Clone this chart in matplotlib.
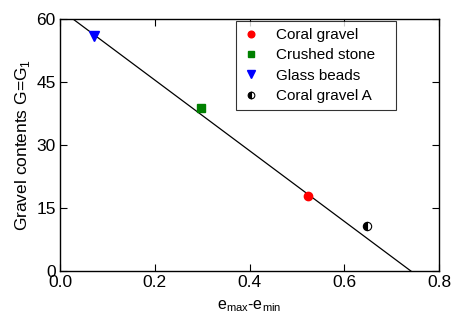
import numpy as np
import matplotlib.pyplot as plt

plt.rcParams['font.family'] = ['Liberation Sans', 'DejaVu Sans']

# data
coral_x = [0.524]
coral_y = [17.9]
crushed_x = [0.297]
crushed_y = [38.8]
glass_x = [0.072]
glass_y = [56.0]
coralA_x = [0.648]
coralA_y = [10.8]

# fitted line end points
fit_x = [0.0, 0.80]
fit_y = [62.3, -5.0]

fig = plt.figure(figsize=(4.52, 3.15), dpi=100)
ax = fig.add_axes([60 / 452, 1 - 271 / 315, 379 / 452, 252 / 315])

ax.plot(fit_x, fit_y, color='black', lw=0.9, zorder=1)
ax.plot(coral_x, coral_y, 'o', color='red', ms=6, ls='none', label='Coral gravel', zorder=3)
ax.plot(crushed_x, crushed_y, 's', color='green', ms=6, ls='none', label='Crushed stone', zorder=3)
ax.plot(glass_x, glass_y, 'v', color='blue', ms=7, ls='none', label='Glass beads', zorder=3)
ax.plot(coralA_x, coralA_y, 'o', ms=6, ls='none', fillstyle='left',
        markerfacecolor='black', markerfacecoloralt='white',
        markeredgecolor='black', markeredgewidth=0.8, label='Coral gravel A', zorder=3)

ax.set_xlim(0, 0.8)
ax.set_ylim(0, 60)
ax.set_xticks([0.0, 0.2, 0.4, 0.6, 0.8])
ax.set_xticklabels(['0.0', '0.2', '0.4', '0.6', '0.8'])
ax.set_yticks([0, 15, 30, 45, 60])
ax.tick_params(direction='in', top=True, right=True, length=5, width=0.8, labelsize=12.5, pad=3)
for s in ax.spines.values():
    s.set_linewidth(1.0)

ax.set_xlabel(r'e$_{\mathregular{max}}$-e$_{\mathregular{min}}$', fontsize=11.5, labelpad=6)
ax.set_ylabel(r'Gravel contents G=G$_{\mathregular{1}}$', fontsize=12.5, labelpad=3)

leg_h = 89 / 252
leg = ax.legend(loc='upper left',
                bbox_to_anchor=((236 - 60) / 379, (271 - 21) / 252 - leg_h, 160 / 379, leg_h),
                mode='expand', borderaxespad=0, fontsize=11,
                frameon=True, fancybox=False, edgecolor='black', borderpad=0.45,
                labelspacing=0.42, handletextpad=1.2, handlelength=1.0, markerscale=0.8)
leg.get_frame().set_linewidth(0.8)

fig.savefig('out.png', dpi=100)
